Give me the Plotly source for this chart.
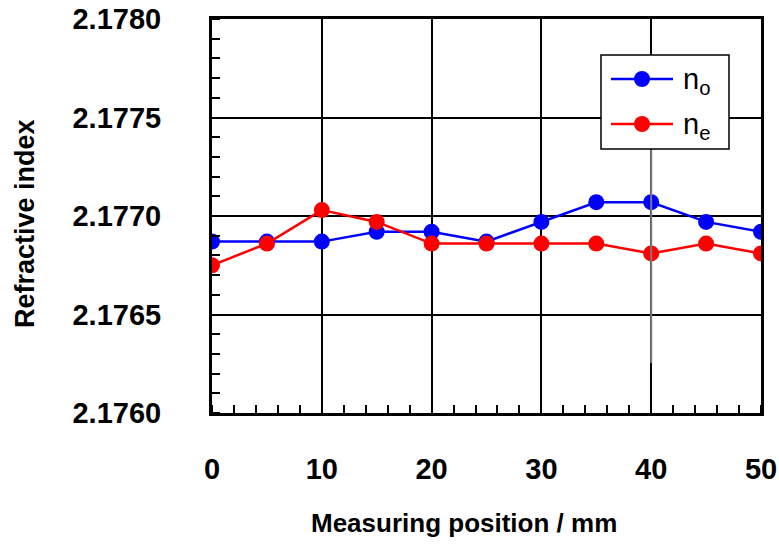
import plotly.graph_objects as go

# Measuring positions along the crystal (mm)
position_mm = [0, 5, 10, 15, 20, 25, 30, 35, 40, 45, 50]

# Ordinary and extraordinary refractive indices
n_o = [2.17687, 2.17687, 2.17687, 2.17692, 2.17692, 2.17687,
       2.17697, 2.17707, 2.17707, 2.17697, 2.17692]
n_e = [2.17675, 2.17686, 2.17703, 2.17697, 2.17686, 2.17686,
       2.17686, 2.17686, 2.17681, 2.17686, 2.17681]

x_ticks = [0, 10, 20, 30, 40, 50]
y_ticks = [2.1760, 2.1765, 2.1770, 2.1775, 2.1780]
y_tick_text = ["2.1760", "2.1765", "2.1770", "2.1775", "2.1780"]

series_names = ["n<sub>o</sub>", "n<sub>e</sub>"]
series_colors = ["#0000ff", "#ff0000"]

FONT = "Liberation Sans"
W, H = 779, 545
ML, MR, MT, MB = 212, 18, 19, 132
PW, PH = W - ML - MR, H - MT - MB


def px_x(px):
    """Pixel column -> paper x."""
    return (px - ML) / PW


def px_y(py):
    """Pixel row -> paper y."""
    return (H - MB - py) / PH


fig = go.Figure()
for name, ys, col in zip(series_names, [n_o, n_e], series_colors):
    fig.add_trace(go.Scatter(
        x=position_mm, y=ys, mode="lines+markers", name=name,
        line=dict(color=col, width=2.5),
        marker=dict(color=col, size=16, line=dict(width=0)),
        showlegend=False,
    ))

shapes = []
annotations = []

# Lighter segment of the x = 40 grid line below the legend box
shapes.append(dict(type="line", xref="x", yref="paper", x0=40, x1=40,
                   y0=px_y(363), y1=px_y(149),
                   line=dict(color="#7a7a7a", width=2), layer="above"))

# Legend box with line + marker samples
shapes.append(dict(type="rect", xref="paper", yref="paper",
                   x0=px_x(601), x1=px_x(729), y0=px_y(149), y1=px_y(55),
                   fillcolor="white", line=dict(color="black", width=1.5),
                   layer="above"))
for i, (name, col) in enumerate(zip(series_names, series_colors)):
    row = 79 + 45 * i
    shapes.append(dict(type="line", xref="paper", yref="paper",
                       x0=px_x(611), x1=px_x(673), y0=px_y(row), y1=px_y(row),
                       line=dict(color=col, width=2.5), layer="above"))
    shapes.append(dict(type="circle", xref="paper", yref="paper",
                       x0=px_x(634), x1=px_x(650),
                       y0=px_y(row + 8), y1=px_y(row - 8),
                       fillcolor=col, line=dict(width=0), layer="above"))
    annotations.append(dict(xref="paper", yref="paper", x=px_x(681), y=px_y(row + 2),
                            xanchor="left", yanchor="middle", showarrow=False,
                            text=name,
                            font=dict(family=FONT, size=29, color="black")))

# Axis titles
annotations.append(dict(xref="paper", yref="paper", x=px_x(464), y=px_y(523),
                        xanchor="center", yanchor="middle", showarrow=False,
                        text="Measuring position / mm",
                        font=dict(family=FONT, size=26, color="black", weight="bold")))
annotations.append(dict(xref="paper", yref="paper", x=px_x(25), y=px_y(223),
                        xanchor="center", yanchor="middle", showarrow=False,
                        textangle=-90, text="Refractive index",
                        font=dict(family=FONT, size=27, color="black", weight="bold")))

fig.update_layout(
    width=W, height=H,
    margin=dict(l=ML, r=MR, t=MT, b=MB, autoexpand=False),
    paper_bgcolor="white", plot_bgcolor="white",
    font=dict(family=FONT, color="black"),
    showlegend=False,
    shapes=shapes,
    annotations=annotations,
)

fig.update_xaxes(
    range=[0, 50], tickvals=x_ticks, ticks="", showgrid=True,
    gridcolor="black", gridwidth=2,
    showline=True, linecolor="black", linewidth=3, mirror=True,
    zeroline=False, automargin=False,
    tickfont=dict(family=FONT, size=29, color="black", weight="bold"),
    ticklabelstandoff=28,
    minor=dict(dtick=2, ticks="inside", ticklen=8, tickwidth=2,
               tickcolor="black", showgrid=False),
)
fig.update_yaxes(
    range=[2.1760, 2.1780], tickvals=y_ticks, ticktext=y_tick_text, ticks="",
    showgrid=True, gridcolor="black", gridwidth=2,
    showline=True, linecolor="black", linewidth=3, mirror=True,
    zeroline=False, automargin=False,
    tickfont=dict(family=FONT, size=29, color="black", weight="bold"),
    ticklabelstandoff=42,
    minor=dict(dtick=0.0001, ticks="inside", ticklen=8, tickwidth=2,
               tickcolor="black", showgrid=False),
)

fig.write_html("out.html")
